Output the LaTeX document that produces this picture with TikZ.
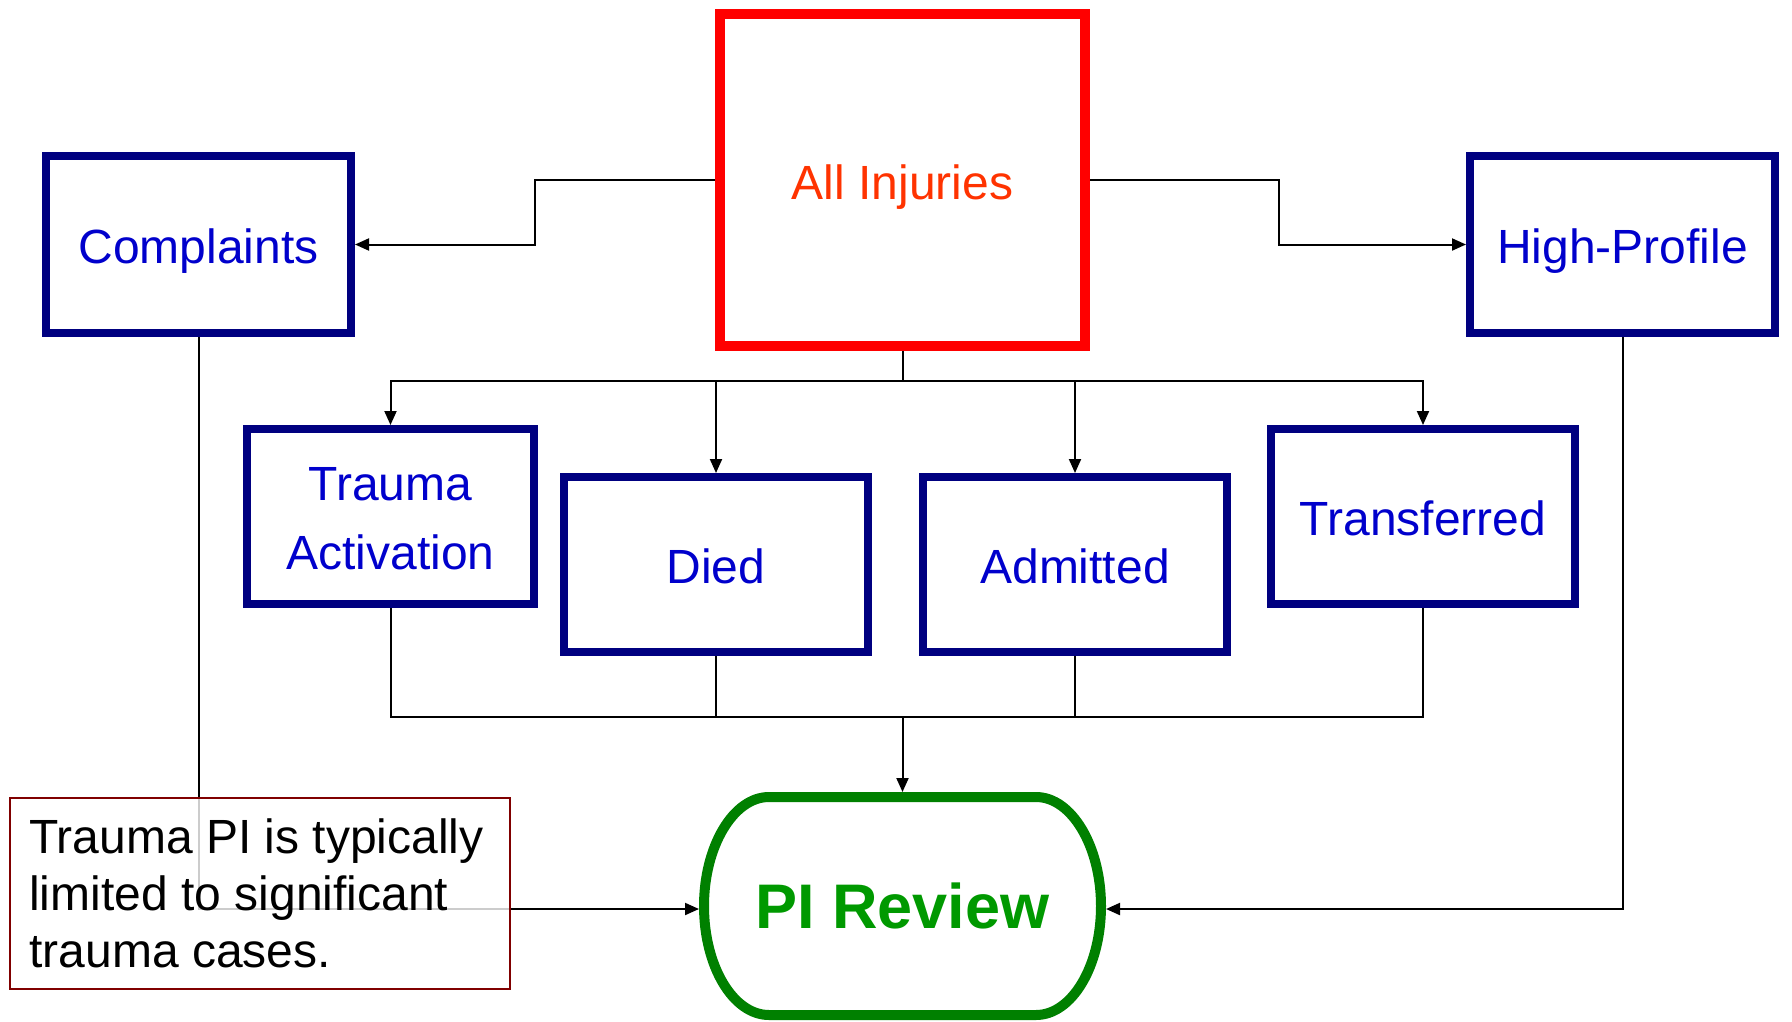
\documentclass[tikz,border=0pt]{standalone}
\usepackage{fontspec}
\setmainfont{Liberation Sans}
\usetikzlibrary{arrows.meta}

\definecolor{boxnavy}{HTML}{000080}
\definecolor{textblue}{HTML}{0000CC}
\definecolor{boxred}{HTML}{FF0000}
\definecolor{textred}{HTML}{FF3300}
\definecolor{boxgreen}{HTML}{008000}
\definecolor{textgreen}{HTML}{009900}
\definecolor{noteborder}{HTML}{800000}

% lower a label inside its box without changing the box's size
\newcommand{\lowered}[2]{\raisebox{-#1}[\height][\depth]{#2}}

\tikzset{
  sourcebox/.style={draw=boxred, line width=10pt, fill=white, text=textred,
    font=\fontsize{48}{57}\selectfont, inner sep=0pt},
  catbox/.style={draw=boxnavy, line width=8pt, fill=white, text=textblue,
    font=\fontsize{48}{69}\selectfont, align=center, inner sep=0pt},
  reviewnode/.style={text=textgreen, font=\fontsize{63}{70}\selectfont\bfseries,
    inner sep=0pt, outer sep=5pt},
  reviewline/.style={draw=boxgreen, line width=10pt},
  notebox/.style={draw=noteborder, line width=2pt, fill=white, fill opacity=0.8,
    text opacity=1, draw opacity=1, text=black, align=left,
    font=\fontsize{48}{57}\selectfont, inner xsep=19pt, inner ysep=0pt},
  conn/.style={draw=black, line width=2pt},
  arr/.style={conn, -{Triangle[length=14pt,width=12pt]}}
}

\begin{document}
\begin{tikzpicture}[x=1pt, y=-1pt]
\useasboundingbox (0,0) rectangle (1792,1021);

% top row
\node[sourcebox, minimum width=365pt, minimum height=332pt] (ai) at (902.5,180) {\lowered{7pt}{All Injuries}};
\node[catbox, minimum width=305pt, minimum height=177pt] (comp) at (198.5,244.5) {\lowered{7pt}{Complaints}};
\node[catbox, minimum width=305pt, minimum height=177pt] (hp) at (1622.5,244.5) {\lowered{7pt}{High-Profile}};

% injury categories
\node[catbox, minimum width=287pt, minimum height=175pt] (ta) at (390.5,516.5) {\lowered{2pt}{\shortstack{Trauma\\[31pt]Activation}}};
\node[catbox, minimum width=304pt, minimum height=175pt] (died) at (716,564.5) {\lowered{2pt}{Died}};
\node[catbox, minimum width=304pt, minimum height=175pt] (adm) at (1075,564.5) {\lowered{2pt}{Admitted}};
\node[catbox, minimum width=304pt, minimum height=175pt] (tr) at (1423,516.5) {\lowered{2pt}{Transferred}};

% review terminal: straight top and bottom, half-elliptic ends
\node[reviewnode, minimum width=397pt, minimum height=218pt] (pi) at (902.5,906) {PI Review};
\draw[reviewline] (769,797) -- (1036,797)
  .. controls (1071.9,797) and (1101,846.8) .. (1101,906)
  .. controls (1101,966.2) and (1071.9,1015) .. (1036,1015)
  -- (769,1015)
  .. controls (733.1,1015) and (704,966.2) .. (704,906)
  .. controls (704,846.8) and (733.1,797) .. (769,797) -- cycle;

% side branches from All Injuries
\draw[arr] (ai.west) -- (535,180) |- (comp.east);
\draw[arr] (ai.east) -- (1279,180) |- (hp.west);

% split to the four categories
\coordinate (split) at (902.5,381);
\draw[conn] (ai.south) -- (split);
\draw[arr] (split) -| (ta.north);
\draw[arr] (split) -| (died.north);
\draw[arr] (split) -| (adm.north);
\draw[arr] (split) -| (tr.north);

% merge into review
\coordinate (merge) at (902.5,717);
\draw[conn] (ta.south) |- (merge);
\draw[conn] (died.south) |- (merge);
\draw[conn] (adm.south) |- (merge);
\draw[conn] (tr.south) |- (merge);
\draw[arr] (merge) -- (pi.north);

% outer routes
\draw[arr] (comp.south) |- ([yshift=-3pt]pi.west);
\draw[arr] (hp.south) |- ([yshift=-3pt]pi.east);

% note
\node[notebox, minimum width=500pt, minimum height=191pt] (note) at (260,893.5)
  {Trauma PI is typically\hspace*{7pt}\\limited to significant\\trauma cases.};
\end{tikzpicture}
\end{document}
